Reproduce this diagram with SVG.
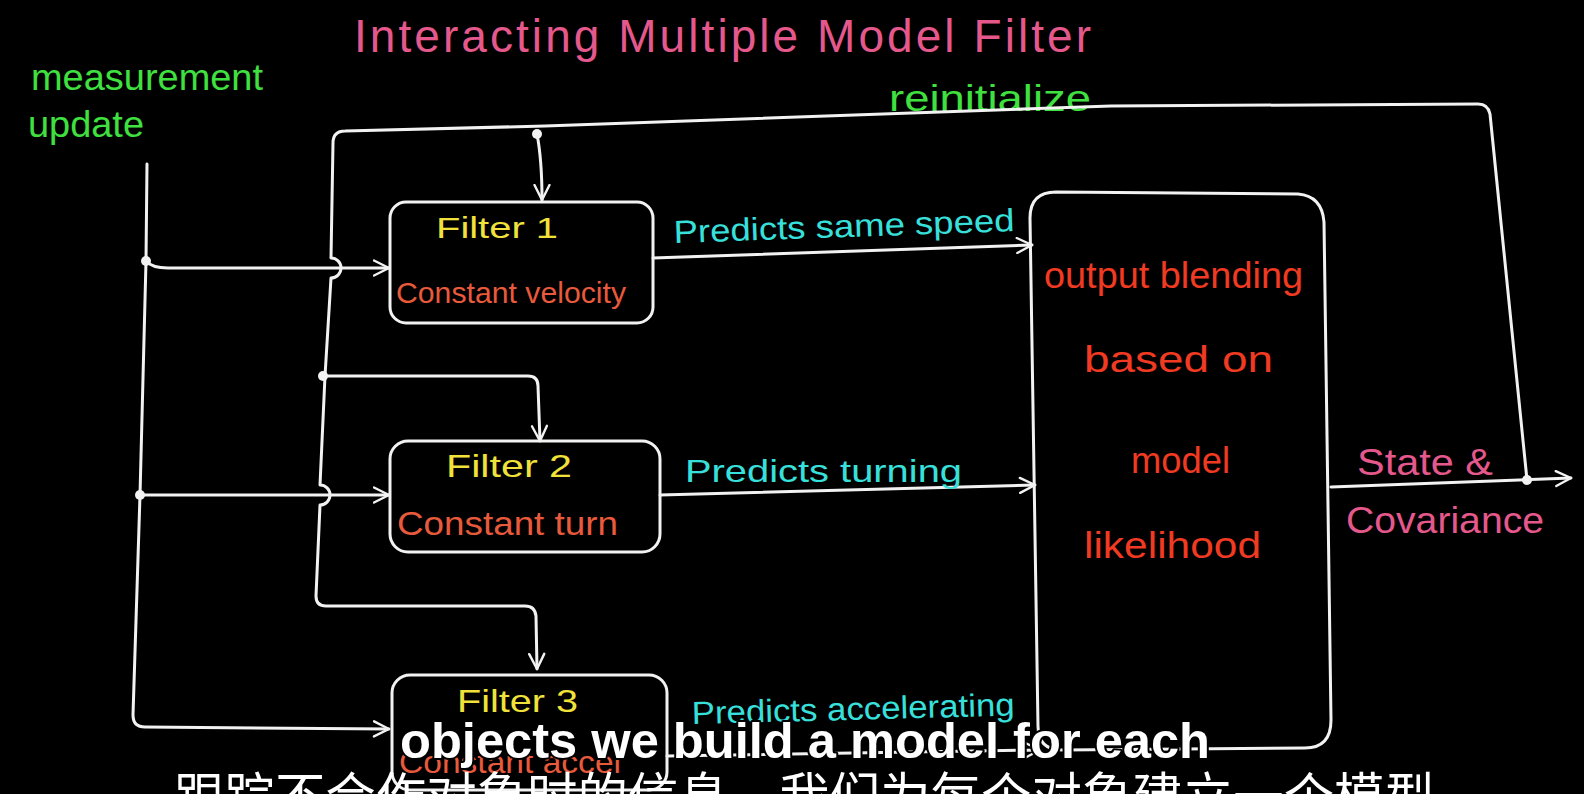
<svg xmlns="http://www.w3.org/2000/svg" width="1584" height="794" viewBox="0 0 1584 794">
  <style>
    .ln{fill:none;stroke:#f2f2f2;stroke-width:3;stroke-linecap:round;stroke-linejoin:round}
    .box{fill:none;stroke:#f2f2f2;stroke-width:3}
    .dot{fill:#f2f2f2}
    text{font-family:"Liberation Sans","Noto Sans",sans-serif}
    .pink{fill:#e4588c}
    .green{fill:#3fe03f}
    .yellow{fill:#f0e23a}
    .orange{fill:#e85a3c}
    .red{fill:#f03a22}
    .cyan{fill:#38e0dc}
    .subEn{fill:#ffffff;font-weight:bold;stroke:#000;stroke-width:4;paint-order:stroke;stroke-linejoin:round}
    .subZh{fill:#ffffff;font-family:"Liberation Sans","Noto Sans CJK SC",sans-serif}
  </style>
  <defs>
    <marker id="arr" viewBox="0 0 12 12" refX="11" refY="6" markerWidth="6" markerHeight="6" markerUnits="strokeWidth" orient="auto">
      <path d="M1,1 L11,6 L1,11" fill="none" stroke="#f2f2f2" stroke-width="1.6" stroke-linecap="round" stroke-linejoin="round"/>
    </marker>
  </defs>
  <rect x="0" y="0" width="1584" height="794" fill="#000"/>

  <text class="pink" x="354" y="52" font-size="46" textLength="737" lengthAdjust="spacing">Interacting Multiple Model Filter</text>
  <text class="green" x="31" y="90" font-size="36" textLength="232" lengthAdjust="spacingAndGlyphs">measurement</text>
  <text class="green" x="28" y="137" font-size="36" textLength="116" lengthAdjust="spacingAndGlyphs">update</text>
  <text class="green" x="889" y="111" font-size="36" textLength="202" lengthAdjust="spacingAndGlyphs">reinitialize</text>

  <g id="connectors">
    <!-- measurement update distribution -->
    <path class="ln" d="M147,164 L146,261 L140,495 L133,715 Q133,727 145,727 L389,729" marker-end="url(#arr)"/>
    <path class="ln" d="M146,261 Q152,268 168,268 L389,268" marker-end="url(#arr)"/>
    <path class="ln" d="M140,495 L389,495" marker-end="url(#arr)"/>
    <!-- reinitialize loop -->
    <path class="ln" d="M1527,480 L1490,114 Q1488,104 1478,104 L1111,106 L545,126 L345,131 Q333,131 333,143 L331,258 A10,10 0 0 1 331,278 L325,376 L320,485 A10,10 0 0 1 320,505 L316,596 Q316,606 326,606 L525,606 Q535,606 536,616 L537,669" marker-end="url(#arr)"/>
    <path class="ln" d="M537,134 Q542,160 542,200" marker-end="url(#arr)"/>
    <path class="ln" d="M323,376 L528,376 Q538,376 538,386 L540,441" marker-end="url(#arr)"/>
    <circle class="dot" cx="146" cy="261" r="5"/>
    <circle class="dot" cx="140" cy="495" r="5"/>
    <circle class="dot" cx="537" cy="134" r="5"/>
    <circle class="dot" cx="323" cy="376" r="5"/>
    <circle class="dot" cx="1527" cy="480" r="5"/>
    <!-- filters to blending -->
    <path class="ln" d="M653,258 L1032,245" marker-end="url(#arr)"/>
    <path class="ln" d="M660,495 L1035,485" marker-end="url(#arr)"/>
    <path class="ln" d="M667,756 L1040,750" marker-end="url(#arr)"/>
    <!-- output -->
    <path class="ln" d="M1331,487 L1571,478" marker-end="url(#arr)"/>
    <text class="cyan" x="674" y="243" font-size="32" textLength="341" lengthAdjust="spacingAndGlyphs" transform="rotate(-2 674 243)">Predicts same speed</text>
    <text class="cyan" x="685" y="482" font-size="32" textLength="277" lengthAdjust="spacingAndGlyphs">Predicts turning</text>
    <text class="cyan" x="692" y="724" font-size="32" textLength="323" lengthAdjust="spacingAndGlyphs" transform="rotate(-1.5 692 724)">Predicts accelerating</text>
    <text class="pink" x="1357" y="475" font-size="36" textLength="136" lengthAdjust="spacingAndGlyphs">State &amp;</text>
    <text class="pink" x="1346" y="533" font-size="36" textLength="198" lengthAdjust="spacingAndGlyphs">Covariance</text>
  </g>

  <g id="filter1">
    <rect class="box" x="390" y="202" width="263" height="121" rx="16"/>
    <text class="yellow" x="436" y="238" font-size="30" textLength="122" lengthAdjust="spacingAndGlyphs">Filter 1</text>
    <text class="orange" x="396" y="303" font-size="30" textLength="230" lengthAdjust="spacingAndGlyphs">Constant velocity</text>
  </g>
  <g id="filter2">
    <rect class="box" x="390" y="441" width="270" height="111" rx="18"/>
    <text class="yellow" x="446" y="477" font-size="32" textLength="126" lengthAdjust="spacingAndGlyphs">Filter 2</text>
    <text class="orange" x="397" y="535" font-size="34" textLength="221" lengthAdjust="spacingAndGlyphs">Constant turn</text>
  </g>
  <g id="filter3">
    <rect class="box" x="392" y="675" width="275" height="115" rx="18"/>
    <text class="yellow" x="457" y="712" font-size="32" textLength="121" lengthAdjust="spacingAndGlyphs">Filter 3</text>
    <text class="orange" x="399" y="773" font-size="32" textLength="222" lengthAdjust="spacingAndGlyphs">Constant accel</text>
  </g>
  <g id="blending">
    <path class="box" d="M1056,192 L1298,194 Q1322,196 1324,222 L1331,720 Q1331,748 1305,748 L1062,750 Q1038,750 1038,726 L1030,218 Q1030,192 1056,192 Z"/>
    <text class="red" x="1044" y="288" font-size="36" textLength="259" lengthAdjust="spacingAndGlyphs">output blending</text>
    <text class="red" x="1084" y="372" font-size="36" textLength="189" lengthAdjust="spacingAndGlyphs">based on</text>
    <text class="red" x="1131" y="473" font-size="36" textLength="99" lengthAdjust="spacingAndGlyphs">model</text>
    <text class="red" x="1084" y="558" font-size="36" textLength="177" lengthAdjust="spacingAndGlyphs">likelihood</text>
  </g>

  <text class="subEn" x="400" y="758" font-size="50" textLength="810" lengthAdjust="spacingAndGlyphs">objects we build a model for each</text>
  <text class="subZh" x="174" y="816" font-size="52" textLength="1261" lengthAdjust="spacingAndGlyphs">跟踪不合作对象时的信息，我们为每个对象建立一个模型</text>
</svg>
